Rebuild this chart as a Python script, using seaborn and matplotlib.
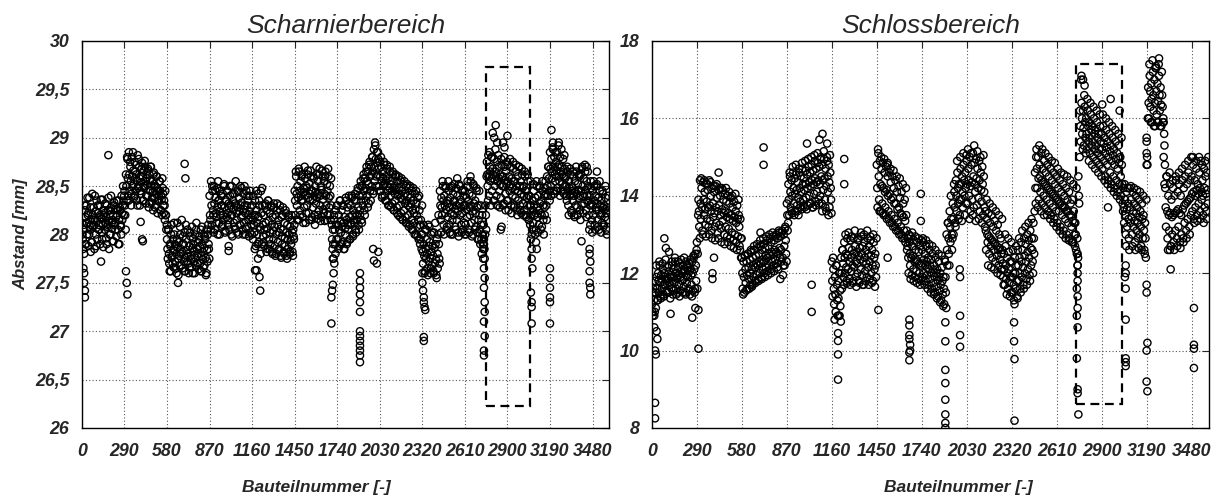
"""
Abstandsmessung Scharnier- und Schlossbereich ueber Bauteilnummer
"""

import numpy as np
import pandas as pd
import matplotlib
matplotlib.use("Agg")
import matplotlib.pyplot as plt
import matplotlib.patches as patches
import seaborn as sns

# ─────────────────────────────────────────
# DATEN (aus dem Bild geschaetzt, Schritt 10 Bauteile, vier Messpunkte je Schritt)
# ─────────────────────────────────────────
bauteil_a = np.arange(0, 3590, 10)
bauteil_b = np.arange(5, 3595, 10)
bauteil_c = np.arange(3, 3593, 10)
bauteil_d = np.arange(8, 3598, 10)

scharnier_a = [
    28.12, 28.05, 28.25, 28.30, 28.20, 28.38, 28.10, 28.42, 28.28, 28.15, 28.35, 28.22, 28.30, 28.18, 28.36, 28.25, 28.12, 28.30, 28.38, 28.20, 28.28, 28.15, 28.33, 28.26, 28.20, 28.35, 28.25, 28.40, 28.50,
    28.45, 28.62, 28.78, 28.85, 28.70, 28.80, 28.66, 28.75, 28.62, 28.82, 28.70, 28.60, 28.74, 28.66, 28.70, 28.58, 28.68, 28.62, 28.70, 28.55, 28.64, 28.50, 28.60, 28.45, 28.55, 28.40, 28.48, 28.35, 28.20,
    27.95, 28.05, 27.90, 28.10, 27.95, 28.00, 27.88, 28.12, 27.92, 28.00, 28.15, 27.90, 28.02, 27.95, 28.05, 27.88, 27.98, 28.08, 27.90, 28.00, 28.12, 27.92, 27.98, 28.05, 27.90, 28.00, 27.95, 28.05, 28.10,
    28.40, 28.55, 28.45, 28.50, 28.38, 28.48, 28.35, 28.45, 28.30, 28.42, 28.50, 28.36, 28.45, 28.32, 28.40, 28.50, 28.35, 28.42, 28.30, 28.45, 28.38, 28.50, 28.33, 28.42, 28.30, 28.45, 28.35, 28.40, 28.28,
    28.30, 28.20, 28.35, 28.25, 28.42, 28.30, 28.45, 28.30, 28.20, 28.32, 28.25, 28.35, 28.22, 28.30, 28.18, 28.28, 28.20, 28.32, 28.15, 28.25, 28.18, 28.28, 28.12, 28.22, 28.10, 28.20, 28.08, 28.15, 28.05,
    28.45, 28.60, 28.50, 28.65, 28.55, 28.62, 28.48, 28.58, 28.50, 28.66, 28.52, 28.60, 28.45, 28.58, 28.50, 28.62, 28.55, 28.68, 28.50, 28.60, 28.55, 28.65, 28.52, 28.60, 28.50, 28.30, 28.05, 28.15, 28.25,
    28.30, 28.20, 28.35, 28.25, 28.30, 28.18, 28.35, 28.28, 28.40, 28.30, 28.38, 28.25, 28.42, 28.35, 28.48, 28.40, 28.55, 28.50, 28.62, 28.58, 28.70, 28.65, 28.75, 28.70, 28.80, 28.88, 28.92, 28.85, 28.78,
    28.75, 28.70, 28.65, 28.72, 28.60, 28.68, 28.58, 28.65, 28.55, 28.62, 28.50, 28.60, 28.55, 28.48, 28.56, 28.45, 28.52, 28.42, 28.50, 28.40, 28.48, 28.38, 28.45, 28.35, 28.42, 28.32, 28.38, 28.25, 28.15,
    28.00, 27.90, 28.05, 27.95, 28.10, 27.92, 28.00, 27.88, 28.02, 27.90, 27.95, 28.20, 28.45, 28.38, 28.50, 28.40, 28.48, 28.35, 28.45, 28.38, 28.50, 28.42, 28.35, 28.48, 28.40, 28.52, 28.36, 28.45, 28.40,
    28.45, 28.38, 28.50, 28.42, 28.55, 28.40, 28.50, 28.35, 28.45, 28.30, 28.20, 28.10, 28.00, 27.90, 28.30, 28.75, 28.82, 28.70, 28.80, 28.68, 28.78, 28.65, 28.75, 28.70, 28.62, 28.72, 28.60, 28.70, 28.65,
    28.72, 28.60, 28.70, 28.58, 28.68, 28.55, 28.65, 28.60, 28.70, 28.55, 28.62, 28.50, 28.60, 28.45, 28.55, 28.40, 28.30, 28.35, 28.45, 28.38, 28.50, 28.40, 28.48, 28.35, 28.45, 28.40, 28.55, 28.60, 28.70,
    28.85, 28.78, 28.88, 28.80, 28.75, 28.85, 28.72, 28.80, 28.70, 28.78, 28.68, 28.60, 28.65, 28.55, 28.62, 28.50, 28.60, 28.55, 28.65, 28.52, 28.60, 28.62, 28.70, 28.58, 28.65, 28.55, 28.50, 28.40, 28.48,
    28.45, 28.50, 28.40, 28.52, 28.38, 28.45, 28.35, 28.42, 28.30, 28.38, 28.28,
]
scharnier_b = [
    27.95, 27.80, 27.90, 28.00, 27.88, 28.05, 27.92, 28.08, 27.85, 28.00, 27.95, 28.10, 27.90, 28.02, 27.87, 28.05, 27.96, 28.10, 27.85, 28.00, 28.06, 27.93, 28.12, 27.98, 28.05, 27.90, 28.08, 28.15, 28.20,
    28.20, 28.35, 28.40, 28.45, 28.30, 28.50, 28.38, 28.45, 28.35, 28.48, 28.30, 28.42, 28.35, 28.50, 28.32, 28.40, 28.28, 28.45, 28.33, 28.25, 28.38, 28.30, 28.22, 28.35, 28.25, 28.20, 28.30, 28.15, 28.05,
    27.75, 27.70, 27.62, 27.78, 27.66, 27.72, 27.60, 27.75, 27.68, 27.80, 27.65, 27.72, 27.62, 27.78, 27.70, 27.66, 27.75, 27.60, 27.72, 27.68, 27.78, 27.64, 27.70, 27.62, 27.74, 27.68, 27.58, 27.72, 27.85,
    28.15, 28.10, 28.20, 28.05, 28.18, 28.00, 28.12, 28.20, 28.08, 28.15, 28.02, 28.18, 28.10, 28.05, 28.20, 27.98, 28.12, 28.06, 28.15, 28.00, 28.10, 28.18, 28.05, 28.12, 28.00, 28.08, 28.15, 28.02, 28.10,
    27.95, 28.02, 27.88, 28.00, 27.92, 28.05, 27.90, 27.98, 27.88, 28.00, 27.85, 27.95, 27.90, 27.82, 27.95, 27.88, 27.80, 27.92, 27.85, 27.78, 27.90, 27.82, 27.88, 27.78, 27.85, 27.80, 27.90, 27.82, 27.95,
    28.20, 28.30, 28.15, 28.25, 28.35, 28.18, 28.28, 28.12, 28.30, 28.22, 28.35, 28.15, 28.28, 28.20, 28.32, 28.16, 28.25, 28.30, 28.18, 28.26, 28.14, 28.30, 28.20, 28.28, 28.15, 27.95, 27.75, 27.90, 27.95,
    27.95, 27.88, 28.02, 27.92, 27.85, 28.00, 27.90, 28.05, 27.95, 28.10, 28.00, 28.12, 28.05, 28.15, 28.10, 28.20, 28.15, 28.30, 28.25, 28.35, 28.40, 28.32, 28.45, 28.50, 28.42, 28.55, 28.60, 28.62, 28.50,
    28.45, 28.38, 28.50, 28.40, 28.35, 28.45, 28.30, 28.40, 28.32, 28.25, 28.35, 28.28, 28.20, 28.30, 28.22, 28.15, 28.25, 28.18, 28.12, 28.20, 28.10, 28.15, 28.05, 28.12, 28.00, 28.08, 27.95, 27.90, 27.85,
    27.70, 27.60, 27.75, 27.65, 27.72, 27.60, 27.68, 27.62, 27.70, 27.58, 27.65, 27.75, 28.15, 28.20, 28.10, 28.22, 28.05, 28.18, 28.10, 28.00, 28.15, 28.20, 28.08, 28.15, 28.02, 28.20, 28.10, 28.05, 28.12,
    28.10, 28.18, 28.05, 28.20, 28.12, 28.00, 28.15, 28.08, 28.02, 27.95, 27.90, 27.80, 27.85, 27.75, 28.05, 28.50, 28.40, 28.55, 28.45, 28.35, 28.50, 28.40, 28.30, 28.45, 28.38, 28.50, 28.32, 28.42, 28.35,
    28.35, 28.45, 28.30, 28.40, 28.28, 28.38, 28.25, 28.35, 28.30, 28.22, 28.32, 28.25, 28.20, 28.30, 28.15, 28.10, 28.00, 28.12, 28.20, 28.05, 28.18, 28.10, 28.22, 28.08, 28.15, 28.20, 28.30, 28.40, 28.45,
    28.50, 28.58, 28.45, 28.55, 28.60, 28.48, 28.55, 28.45, 28.52, 28.42, 28.50, 28.35, 28.30, 28.40, 28.25, 28.35, 28.20, 28.30, 28.28, 28.38, 28.25, 28.30, 28.40, 28.32, 28.25, 28.35, 28.20, 28.10, 28.15,
    28.20, 28.10, 28.25, 28.15, 28.05, 28.20, 28.12, 28.08, 28.18, 28.05, 28.15,
]
scharnier_c = [
    28.00, 28.10, 28.18, 28.12, 28.22, 28.08, 28.16, 28.20, 28.10, 28.24, 28.14, 28.05, 28.20, 28.16, 28.10, 28.22, 28.18, 28.08, 28.14, 28.25, 28.12, 28.20, 28.10, 28.18, 28.26, 28.15, 28.10, 28.22, 28.35,
    28.30, 28.50, 28.58, 28.62, 28.55, 28.60, 28.52, 28.65, 28.56, 28.50, 28.58, 28.54, 28.60, 28.48, 28.55, 28.52, 28.46, 28.56, 28.50, 28.44, 28.52, 28.42, 28.48, 28.40, 28.45, 28.36, 28.42, 28.30, 28.20,
    27.85, 27.80, 27.88, 27.76, 27.84, 27.90, 27.80, 27.86, 27.78, 27.85, 27.82, 27.90, 27.76, 27.84, 27.80, 27.88, 27.78, 27.86, 27.82, 27.76, 27.85, 27.80, 27.88, 27.78, 27.82, 27.86, 27.76, 27.84, 27.90,
    28.20, 28.30, 28.25, 28.32, 28.22, 28.28, 28.35, 28.24, 28.30, 28.20, 28.28, 28.34, 28.22, 28.27, 28.30, 28.20, 28.26, 28.32, 28.22, 28.28, 28.24, 28.30, 28.20, 28.26, 28.22, 28.30, 28.20, 28.24, 28.18,
    28.15, 28.10, 28.20, 28.12, 28.18, 28.08, 28.22, 28.10, 28.05, 28.12, 28.06, 28.14, 28.02, 28.10, 28.04, 28.08, 28.00, 28.10, 28.02, 28.06, 27.98, 28.05, 27.96, 28.02, 27.95, 28.00, 27.94, 28.02, 27.98,
    28.35, 28.42, 28.38, 28.45, 28.40, 28.36, 28.44, 28.40, 28.48, 28.38, 28.42, 28.46, 28.36, 28.40, 28.44, 28.38, 28.42, 28.40, 28.46, 28.36, 28.42, 28.40, 28.45, 28.38, 28.40, 28.10, 27.90, 28.05, 28.10,
    28.10, 28.05, 28.14, 28.08, 28.12, 28.06, 28.15, 28.10, 28.18, 28.12, 28.20, 28.15, 28.22, 28.20, 28.28, 28.25, 28.35, 28.40, 28.45, 28.48, 28.55, 28.52, 28.60, 28.62, 28.65, 28.70, 28.78, 28.74, 28.68,
    28.60, 28.55, 28.58, 28.52, 28.56, 28.50, 28.48, 28.52, 28.45, 28.48, 28.42, 28.46, 28.40, 28.42, 28.38, 28.36, 28.40, 28.32, 28.35, 28.30, 28.28, 28.32, 28.25, 28.22, 28.26, 28.20, 28.15, 28.10, 28.00,
    27.82, 27.78, 27.85, 27.80, 27.88, 27.76, 27.82, 27.78, 27.86, 27.74, 27.80, 27.90, 28.30, 28.28, 28.35, 28.30, 28.26, 28.32, 28.28, 28.22, 28.30, 28.34, 28.26, 28.30, 28.24, 28.32, 28.28, 28.22, 28.30,
    28.30, 28.26, 28.34, 28.28, 28.30, 28.24, 28.32, 28.22, 28.28, 28.15, 28.05, 27.95, 27.90, 27.85, 28.20, 28.62, 28.60, 28.65, 28.58, 28.62, 28.56, 28.60, 28.55, 28.58, 28.52, 28.60, 28.50, 28.56, 28.52,
    28.55, 28.50, 28.52, 28.48, 28.55, 28.46, 28.50, 28.45, 28.50, 28.42, 28.48, 28.40, 28.45, 28.38, 28.40, 28.30, 28.20, 28.25, 28.30, 28.22, 28.28, 28.25, 28.32, 28.20, 28.30, 28.28, 28.42, 28.50, 28.58,
    28.68, 28.65, 28.70, 28.62, 28.66, 28.70, 28.60, 28.65, 28.62, 28.60, 28.58, 28.50, 28.45, 28.48, 28.42, 28.45, 28.40, 28.44, 28.42, 28.46, 28.40, 28.45, 28.50, 28.42, 28.46, 28.40, 28.35, 28.30, 28.32,
    28.30, 28.35, 28.28, 28.32, 28.25, 28.30, 28.22, 28.28, 28.26, 28.22, 28.25,
]
scharnier_d = [
    27.85, 28.30, 27.90, 28.38, 28.00, 28.28, 27.92, 28.15, 28.40, 27.88, 28.30, 28.05, 28.36, 27.95, 28.20, 28.32, 27.90, 28.25, 28.00, 28.40, 27.93, 28.30, 28.05, 28.35, 27.90, 28.28, 28.00, 28.30, 28.40,
    28.05, 28.80, 28.35, 28.75, 28.42, 28.85, 28.40, 28.72, 28.30, 28.78, 28.45, 28.68, 28.35, 28.76, 28.40, 28.66, 28.32, 28.70, 28.38, 28.62, 28.28, 28.60, 28.35, 28.55, 28.25, 28.58, 28.22, 28.45, 28.10,
    28.05, 27.62, 28.00, 27.70, 28.12, 27.65, 27.95, 27.58, 28.08, 27.68, 27.98, 27.62, 28.10, 27.72, 27.60, 28.02, 27.66, 27.96, 27.60, 28.05, 27.70, 27.94, 27.62, 28.08, 27.66, 27.98, 27.60, 28.00, 27.75,
    28.05, 28.50, 28.02, 28.46, 28.12, 28.55, 28.00, 28.40, 28.10, 28.52, 28.04, 28.45, 28.15, 28.50, 28.00, 28.42, 28.08, 28.55, 28.02, 28.44, 28.10, 28.48, 28.00, 28.50, 28.06, 28.40, 27.98, 28.45, 28.00,
    28.40, 27.85, 28.45, 27.90, 28.35, 27.80, 28.48, 27.92, 28.30, 27.82, 28.35, 27.85, 28.28, 27.80, 28.32, 27.78, 28.25, 27.84, 28.30, 27.76, 28.20, 27.80, 28.25, 27.75, 28.18, 27.82, 28.20, 27.78, 28.10,
    28.65, 28.15, 28.68, 28.20, 28.60, 28.12, 28.70, 28.22, 28.62, 28.15, 28.66, 28.18, 28.60, 28.10, 28.70, 28.20, 28.62, 28.14, 28.66, 28.22, 28.60, 28.15, 28.68, 28.20, 28.58, 27.85, 28.20, 27.80, 28.30,
    27.85, 28.35, 27.90, 28.30, 27.85, 28.38, 27.92, 28.32, 27.95, 28.40, 27.98, 28.36, 28.02, 28.45, 28.05, 28.50, 28.12, 28.58, 28.20, 28.65, 28.28, 28.72, 28.35, 28.80, 28.45, 28.95, 28.50, 28.85, 28.45,
    28.80, 28.40, 28.75, 28.35, 28.72, 28.30, 28.70, 28.28, 28.65, 28.25, 28.62, 28.22, 28.60, 28.18, 28.58, 28.15, 28.55, 28.12, 28.52, 28.08, 28.50, 28.05, 28.48, 28.00, 28.45, 27.98, 28.40, 27.95, 28.30,
    28.10, 27.62, 28.05, 27.58, 28.08, 27.65, 28.02, 27.60, 28.12, 27.55, 28.00, 27.70, 28.02, 28.55, 28.00, 28.50, 28.08, 28.55, 28.02, 28.48, 28.00, 28.52, 28.05, 28.58, 27.98, 28.50, 28.02, 28.46, 28.00,
    28.00, 28.55, 28.02, 28.60, 27.98, 28.52, 28.05, 28.48, 27.95, 28.45, 28.30, 28.20, 28.10, 28.00, 28.60, 28.35, 28.85, 28.30, 28.80, 28.35, 28.88, 28.30, 28.82, 28.28, 28.78, 28.30, 28.80, 28.25, 28.75,
    28.25, 28.78, 28.22, 28.75, 28.30, 28.72, 28.20, 28.70, 28.25, 28.68, 28.20, 28.65, 28.18, 28.62, 28.15, 28.55, 28.05, 28.52, 28.00, 28.55, 28.02, 28.50, 28.05, 28.55, 28.00, 28.48, 28.15, 28.70, 28.35,
    28.40, 28.90, 28.42, 28.85, 28.45, 28.92, 28.40, 28.88, 28.45, 28.82, 28.40, 28.70, 28.20, 28.68, 28.22, 28.65, 28.18, 28.70, 28.20, 28.62, 28.15, 28.68, 28.22, 28.72, 28.18, 28.65, 28.05, 28.55, 28.02,
    28.55, 28.05, 28.50, 28.08, 28.55, 28.02, 28.45, 28.10, 28.50, 28.00, 28.40,
]
# Ausreisser Scharnierbereich (Bauteilnummer, Abstand)
scharnier_aus_x = [
    10, 15, 15, 20, 20, 180, 130, 60, 300, 305, 310, 410, 415, 400,
    700, 705, 655, 1000, 1000, 1180, 1190, 1210, 1215, 1200,
    1720, 1715, 1710, 1705, 1700, 1700, 1710,
    1895, 1895, 1895, 1895, 1895, 1895, 1895, 1895, 1895, 1895, 1895, 1895, 1895,
    1990, 2010, 2020, 1985,
    2320, 2320, 2325, 2330, 2330, 2335, 2340, 2330, 2330,
    2740, 2740, 2735, 2740, 2745, 2740, 2745, 2745, 2740, 2745, 2740, 2740,
    2860, 2855, 2820, 2810, 2800, 2830, 2870, 2900, 2880,
    3060, 3065, 3065, 3070, 3060, 3065, 3065, 3065, 3095, 3100,
    3190, 3190, 3190, 3190, 3190, 3190, 3200, 3210, 3250, 3405,
    3460, 3460, 3465, 3460, 3460, 3465, 3465, 3440, 3510,
]
scharnier_aus_y = [
    27.65, 27.60, 27.50, 27.42, 27.35, 28.82, 27.72, 27.82, 27.62, 27.50, 27.38, 27.95, 27.93, 28.13,
    28.73, 28.58, 27.50, 27.88, 27.83, 27.63, 27.63, 27.56, 27.42, 27.75,
    27.70, 27.60, 27.48, 27.42, 27.35, 27.08, 27.75,
    27.60, 27.52, 27.45, 27.38, 27.30, 27.20, 27.00, 26.95, 26.90, 26.85, 26.80, 26.75, 26.68,
    27.73, 27.70, 27.82, 27.85,
    27.60, 27.50, 27.42, 27.35, 27.30, 27.25, 27.22, 26.94, 26.90,
    27.95, 27.85, 27.75, 27.65, 27.55, 27.45, 27.30, 27.20, 27.10, 26.95, 26.80, 26.75,
    28.08, 28.05, 29.13, 29.00, 29.05, 28.95, 28.95, 29.02, 28.90,
    27.95, 27.85, 27.75, 27.65, 27.40, 27.30, 27.25, 27.08, 27.92, 27.85,
    27.65, 27.55, 27.45, 27.35, 27.30, 27.08, 29.08, 28.95, 28.95, 27.93,
    27.85, 27.80, 27.72, 27.62, 27.50, 27.45, 27.38, 28.70, 28.65,
]

schloss_a = [
    11.2, 11.5, 11.8, 11.9, 12.0, 12.2, 11.95, 12.1, 12.0, 11.85, 12.15, 12.05, 11.9, 12.2, 12.1, 12.3, 12.0, 12.15, 12.25, 12.05, 12.2, 12.1, 12.3, 12.15, 12.25, 12.1, 12.3, 12.4, 12.5,
    12.8, 13.9, 14.4, 14.2, 14.35, 14.1, 14.3, 14.15, 14.4, 14.0, 14.2, 14.1, 14.25, 13.95, 14.15, 14.0, 14.2, 13.9, 14.05, 13.85, 14.0, 13.8, 13.95, 13.7, 13.85, 13.6, 13.75, 13.5, 13.4,
    12.4, 12.3, 12.45, 12.3, 12.5, 12.35, 12.55, 12.4, 12.6, 12.45, 12.65, 12.5, 12.7, 12.6, 12.75, 12.65, 12.85, 12.7, 12.9, 12.8, 12.95, 12.85, 13.0, 12.9, 13.05, 12.95, 13.1, 13.0, 13.2,
    13.8, 14.3, 14.5, 14.4, 14.6, 14.45, 14.55, 14.35, 14.6, 14.5, 14.7, 14.45, 14.65, 14.55, 14.75, 14.6, 14.8, 14.65, 14.9, 14.7, 14.85, 14.75, 15.0, 14.8, 14.95, 14.7, 14.9, 14.8, 14.6,
    12.3, 12.1, 11.9, 12.2, 11.8, 12.0, 12.4, 12.6, 12.8, 12.5, 12.9, 12.65, 12.85, 12.6, 12.9, 12.7, 12.55, 12.85, 12.65, 12.95, 12.7, 12.8, 12.6, 12.9, 12.7, 12.85, 12.6, 12.8, 12.5,
    14.8, 15.1, 14.9, 14.7, 14.85, 14.6, 14.75, 14.5, 14.6, 14.35, 14.5, 14.2, 14.4, 14.1, 14.25, 13.95, 14.1, 13.8, 13.9, 13.5, 12.9, 12.8, 12.95, 12.7, 12.85, 12.6, 12.8, 12.55, 12.7,
    12.6, 12.8, 12.5, 12.7, 12.4, 12.6, 12.35, 12.5, 12.2, 12.4, 12.1, 12.3, 12.0, 12.15, 11.9, 12.3, 13.0, 13.3, 13.6, 13.4, 13.8, 14.1, 14.4, 14.6, 14.3, 14.7, 14.5, 14.8, 14.6,
    14.9, 14.7, 15.0, 14.8, 15.1, 14.85, 14.95, 14.7, 14.9, 14.6, 14.75, 14.5, 13.6, 13.4, 13.55, 13.3, 13.5, 13.2, 13.35, 13.1, 13.25, 13.0, 12.9, 12.6, 12.5, 12.7, 12.4, 12.55, 12.3,
    12.3, 12.0, 12.4, 12.2, 12.6, 12.4, 12.8, 12.6, 12.9, 12.75, 13.0, 12.85, 13.1, 12.9, 13.3, 14.6, 15.2, 15.0, 14.8, 15.1, 14.7, 14.9, 14.6, 14.8, 14.5, 14.7, 14.4, 14.6, 14.3,
    14.5, 14.2, 14.4, 14.1, 14.3, 14.0, 14.2, 13.9, 14.1, 13.8, 13.9, 13.6, 13.3, 12.5, 14.5, 16.2, 16.4, 16.2, 16.3, 16.0, 16.2, 15.9, 16.1, 15.8, 16.0, 15.7, 15.9, 15.6, 15.8,
    15.6, 15.8, 15.5, 15.7, 15.4, 15.6, 15.3, 15.5, 15.2, 15.4, 15.1, 15.3, 15.0, 14.8, 14.2, 13.9, 14.1, 13.8, 14.2, 13.9, 14.1, 13.8, 14.0, 13.7, 13.9, 13.6, 13.8, 13.5, 13.3,
    15.5, 16.8, 17.1, 16.9, 17.2, 17.0, 17.3, 16.9, 17.1, 16.8, 16.6, 15.9, 14.2, 14.5, 14.0, 14.3, 13.9, 14.2, 14.0, 14.4, 14.1, 14.3, 14.0, 14.4, 14.2, 14.5, 14.3, 14.6, 14.4,
    14.5, 14.8, 14.4, 14.7, 14.3, 14.6, 14.9, 14.4, 14.7, 14.5, 14.6,
]
schloss_b = [
    10.9, 10.6, 11.1, 11.3, 11.5, 11.4, 11.6, 11.45, 11.7, 11.55, 11.5, 11.7, 11.6, 11.45, 11.75, 11.6, 11.5, 11.7, 11.55, 11.8, 11.65, 11.5, 11.75, 11.6, 11.45, 11.7, 11.55, 11.5, 11.8,
    12.5, 13.2, 13.4, 13.1, 13.5, 13.25, 13.4, 13.2, 13.35, 13.1, 13.45, 13.2, 13.3, 13.05, 13.25, 13.15, 13.35, 13.0, 13.2, 12.95, 13.15, 12.9, 13.05, 12.85, 13.0, 12.8, 12.95, 12.7, 12.4,
    11.6, 11.5, 11.75, 11.6, 11.85, 11.7, 11.65, 11.9, 11.8, 11.95, 11.85, 12.0, 11.9, 12.1, 12.0, 12.15, 12.05, 12.2, 12.1, 12.3, 12.2, 12.35, 12.25, 12.1, 12.4, 12.3, 11.95, 12.2, 12.5,
    13.1, 13.5, 13.7, 13.55, 13.8, 13.6, 13.75, 13.5, 13.85, 13.65, 13.9, 13.7, 13.95, 13.75, 14.0, 13.8, 13.7, 14.05, 13.85, 14.1, 13.9, 14.0, 13.8, 14.15, 13.9, 13.6, 14.1, 13.7, 13.9,
    11.4, 11.2, 11.0, 11.3, 10.9, 11.15, 11.6, 11.9, 12.0, 11.8, 12.1, 11.85, 12.05, 11.75, 12.15, 11.9, 12.0, 11.8, 12.1, 11.95, 11.7, 12.05, 11.9, 12.15, 11.85, 12.0, 11.8, 12.1, 11.9,
    13.7, 13.9, 13.6, 13.8, 13.5, 13.7, 13.4, 13.6, 13.3, 13.5, 13.2, 13.4, 13.1, 13.3, 13.0, 13.2, 12.9, 13.1, 12.8, 12.6, 12.0, 12.2, 11.95, 12.1, 11.9, 12.05, 11.85, 12.0, 11.8,
    11.9, 12.0, 11.8, 11.95, 11.7, 11.85, 11.6, 11.75, 11.5, 11.65, 11.4, 11.55, 11.3, 11.45, 11.2, 11.5, 12.2, 12.5, 12.8, 12.6, 13.0, 13.3, 13.6, 13.8, 13.5, 13.9, 13.7, 14.0, 13.8,
    13.8, 14.0, 13.6, 13.9, 13.7, 14.1, 13.75, 13.95, 13.6, 13.85, 13.5, 13.7, 12.6, 12.8, 12.5, 12.7, 12.4, 12.6, 12.3, 12.45, 12.2, 12.35, 12.1, 11.9, 11.7, 11.85, 11.6, 11.75, 11.5,
    11.5, 11.3, 11.6, 11.4, 11.8, 11.6, 11.9, 11.7, 12.0, 11.85, 12.1, 11.95, 12.2, 12.3, 12.5, 13.8, 14.2, 13.9, 14.1, 13.8, 14.0, 13.7, 13.9, 13.6, 13.8, 13.5, 13.7, 13.4, 13.6,
    13.3, 13.6, 13.2, 13.5, 13.1, 13.4, 13.0, 13.3, 12.9, 13.2, 12.8, 13.0, 12.6, 12.2, 13.8, 15.4, 15.6, 15.3, 15.5, 15.2, 15.4, 15.1, 15.3, 15.0, 15.2, 14.9, 15.1, 14.8, 15.0,
    14.7, 14.9, 14.5, 14.8, 14.4, 14.6, 14.3, 14.5, 14.2, 14.4, 14.1, 14.3, 14.0, 13.8, 13.3, 13.0, 13.2, 12.9, 13.3, 13.0, 13.2, 12.8, 13.1, 12.9, 13.0, 12.7, 12.9, 12.6, 12.4,
    14.8, 16.0, 16.3, 15.9, 16.2, 15.8, 16.1, 15.9, 16.2, 15.8, 15.9, 15.3, 13.2, 12.9, 13.1, 12.7, 13.0, 12.8, 13.1, 12.9, 13.2, 12.8, 13.0, 12.9, 13.3, 13.1, 13.4, 13.2, 13.5,
    13.6, 13.4, 13.7, 13.5, 13.8, 13.6, 13.9, 13.5, 13.7, 13.6, 13.8,
]
schloss_c = [
    11.0, 11.3, 11.5, 11.6, 11.8, 11.75, 11.85, 11.7, 11.9, 11.8, 11.85, 11.75, 11.95, 11.8, 11.9, 12.0, 11.85, 11.95, 11.9, 12.0, 11.85, 12.05, 11.95, 11.9, 12.05, 11.95, 12.0, 12.1, 12.2,
    11.6, 13.6, 13.8, 13.7, 13.9, 13.65, 13.85, 13.7, 13.75, 13.6, 13.8, 13.55, 13.7, 13.6, 13.75, 13.5, 13.65, 13.55, 13.6, 13.45, 13.55, 13.4, 13.5, 13.35, 13.45, 13.3, 13.4, 13.2, 12.9,
    12.0, 11.9, 12.1, 11.95, 12.15, 12.0, 12.1, 12.2, 12.15, 12.25, 12.2, 12.3, 12.25, 12.35, 12.3, 12.45, 12.4, 12.5, 12.45, 12.55, 12.5, 12.6, 12.55, 12.5, 12.65, 12.6, 12.4, 12.7, 12.85,
    13.5, 13.9, 14.1, 14.0, 14.2, 14.05, 14.15, 13.95, 14.2, 14.1, 14.3, 14.15, 14.3, 14.2, 14.35, 14.25, 14.4, 14.3, 14.45, 14.35, 14.4, 14.3, 14.5, 14.4, 14.45, 14.25, 14.5, 14.35, 14.2,
    11.8, 11.6, 11.45, 11.7, 11.35, 11.55, 12.0, 12.25, 12.4, 12.15, 12.45, 12.3, 12.4, 12.2, 12.5, 12.3, 12.25, 12.45, 12.35, 12.5, 12.3, 12.4, 12.25, 12.5, 12.3, 12.45, 12.2, 12.4, 12.2,
    14.2, 14.5, 14.3, 14.25, 14.2, 14.1, 14.15, 14.0, 14.05, 13.9, 13.95, 13.8, 13.8, 13.65, 13.7, 13.55, 13.5, 13.45, 13.35, 13.1, 12.4, 12.5, 12.4, 12.45, 12.3, 12.35, 12.3, 12.25, 12.2,
    12.25, 12.35, 12.2, 12.3, 12.1, 12.2, 12.0, 12.1, 11.9, 12.0, 11.8, 11.9, 11.7, 11.8, 11.6, 11.9, 12.6, 12.9, 13.2, 13.0, 13.4, 13.7, 14.0, 14.2, 13.9, 14.3, 14.1, 14.4, 14.2,
    14.3, 14.4, 14.25, 14.35, 14.5, 14.3, 14.45, 14.2, 14.4, 14.15, 14.3, 14.1, 13.1, 13.0, 12.95, 12.9, 12.85, 12.8, 12.75, 12.7, 12.6, 12.65, 12.5, 12.25, 12.1, 12.2, 12.0, 12.1, 11.9,
    11.9, 11.7, 12.0, 11.8, 12.2, 12.0, 12.3, 12.15, 12.45, 12.3, 12.55, 12.4, 12.65, 12.6, 12.9, 14.2, 14.7, 14.45, 14.5, 14.4, 14.35, 14.3, 14.25, 14.2, 14.15, 14.1, 14.05, 14.0, 13.95,
    13.9, 13.85, 13.8, 13.75, 13.7, 13.7, 13.6, 13.6, 13.5, 13.5, 13.35, 13.3, 13.0, 12.9, 14.0, 15.8, 16.0, 15.75, 15.9, 15.6, 15.8, 15.5, 15.7, 15.4, 15.6, 15.3, 15.5, 15.2, 15.4,
    15.2, 15.35, 15.1, 15.25, 15.0, 15.15, 14.9, 15.05, 14.8, 14.95, 14.7, 14.85, 14.5, 14.3, 13.7, 13.5, 13.65, 13.4, 13.7, 13.45, 13.6, 13.35, 13.55, 13.3, 13.45, 13.2, 13.4, 13.1, 12.9,
    15.0, 16.4, 16.7, 16.5, 16.6, 16.4, 16.7, 16.45, 16.6, 16.35, 16.3, 15.6, 13.7, 13.6, 13.5, 13.55, 13.45, 13.5, 13.55, 13.6, 13.65, 13.55, 13.5, 13.65, 13.75, 13.8, 13.85, 13.9, 13.95,
    14.05, 14.1, 14.0, 14.15, 14.05, 14.2, 14.1, 14.0, 14.2, 14.05, 14.15,
]
schloss_d = [
    11.6, 11.0, 12.2, 11.3, 12.3, 11.35, 12.25, 11.4, 12.35, 11.5, 12.2, 11.35, 12.3, 11.55, 12.4, 11.45, 12.3, 11.4, 12.35, 11.5, 12.4, 11.45, 12.2, 11.55, 12.35, 11.4, 12.45, 11.6, 12.6,
    13.5, 12.9, 14.45, 13.0, 14.4, 12.95, 14.3, 13.0, 14.35, 12.9, 14.25, 12.85, 14.3, 12.9, 14.2, 12.8, 14.15, 12.75, 14.2, 12.8, 14.1, 12.7, 14.0, 12.65, 14.05, 12.6, 13.9, 12.6, 12.9,
    11.45, 12.45, 11.55, 12.5, 11.6, 12.6, 11.7, 12.7, 11.75, 12.75, 11.8, 12.85, 11.85, 12.9, 11.9, 12.95, 11.95, 13.0, 12.0, 13.05, 12.05, 12.95, 12.15, 13.1, 11.85, 13.05, 12.2, 13.15, 12.3,
    13.3, 14.6, 13.6, 14.75, 13.5, 14.8, 13.6, 14.7, 13.7, 14.85, 13.75, 14.9, 13.65, 14.95, 13.8, 15.0, 13.7, 15.05, 13.75, 15.1, 13.8, 14.95, 13.6, 15.15, 13.7, 15.0, 13.5, 15.05, 13.55,
    12.4, 10.8, 12.2, 10.9, 12.0, 10.75, 12.6, 11.7, 13.0, 11.75, 13.05, 11.7, 12.95, 11.8, 13.1, 11.65, 12.9, 11.75, 13.05, 11.7, 13.0, 11.8, 13.1, 11.7, 12.95, 11.75, 13.0, 11.65, 12.9,
    15.2, 13.6, 15.0, 13.55, 14.95, 13.5, 14.8, 13.4, 14.7, 13.3, 14.65, 13.2, 14.5, 13.1, 14.45, 13.0, 14.3, 12.9, 14.2, 12.7, 13.0, 11.85, 13.05, 11.8, 12.95, 11.75, 12.9, 11.7, 12.85,
    12.9, 11.7, 12.85, 11.6, 12.75, 11.5, 12.7, 11.45, 12.6, 11.35, 12.5, 11.25, 12.45, 11.15, 12.35, 11.1, 13.3, 12.2, 14.0, 12.9, 14.3, 13.2, 14.9, 13.4, 15.0, 13.35, 15.1, 13.5, 15.05,
    15.2, 13.4, 15.1, 13.5, 15.3, 13.35, 15.15, 13.4, 15.0, 13.3, 15.05, 13.2, 13.9, 12.2, 13.8, 12.15, 13.7, 12.1, 13.6, 12.0, 13.5, 11.95, 13.4, 11.7, 13.0, 11.45, 12.9, 11.4, 12.8,
    12.6, 11.2, 12.7, 11.35, 12.9, 11.5, 13.1, 11.6, 13.2, 11.7, 13.3, 11.8, 13.4, 12.0, 13.6, 15.0, 13.7, 15.3, 13.6, 15.2, 13.5, 15.1, 13.5, 15.0, 13.4, 14.9, 13.3, 14.85, 13.2,
    14.7, 13.1, 14.6, 13.0, 14.55, 12.9, 14.5, 12.85, 14.4, 12.8, 14.3, 12.7, 14.2, 12.4, 15.0, 17.0, 15.2, 16.6, 15.1, 16.5, 14.9, 16.4, 14.8, 16.3, 14.7, 16.2, 14.6, 16.1, 14.5,
    16.1, 14.4, 16.0, 14.3, 15.9, 14.2, 15.8, 14.1, 15.7, 14.0, 15.6, 13.9, 15.5, 13.6, 14.3, 12.7, 14.2, 12.6, 14.25, 12.7, 14.2, 12.6, 14.15, 12.65, 14.1, 12.6, 14.0, 12.5, 13.9,
    16.0, 17.4, 15.9, 17.5, 15.8, 17.3, 15.9, 17.4, 15.8, 17.2, 16.0, 14.8, 14.5, 12.6, 14.6, 12.7, 14.4, 12.6, 14.5, 12.7, 14.6, 12.65, 14.7, 12.8, 14.8, 12.9, 14.9, 13.0, 15.0,
    15.0, 13.3, 14.9, 13.35, 15.0, 13.4, 14.8, 13.3, 14.9, 13.4, 15.0,
]
# Ausreisser Schlossbereich (Bauteilnummer, Abstand)
schloss_aus_x = [
    20, 25, 20, 20, 30, 35, 15, 80, 90, 110, 120, 260, 280, 300, 300,
    390, 390, 400, 430, 700, 720, 720,
    1000, 1030, 1030, 1080, 1100, 1130,
    1200, 1200, 1200, 1200, 1210, 1240, 1240, 1460, 1520, 1520, 1734, 1734,
    1660, 1660, 1660, 1660, 1665, 1665, 1660, 1660,
    1892, 1892, 1892, 1892, 1892, 1892, 1892, 1892,
    1987, 1987, 1987, 1985, 1987,
    2335, 2335, 2338, 2338,
    2745, 2745, 2745, 2745, 2740, 2745, 2745, 2740, 2745, 2740, 2745, 2745, 2750,
    3055, 3055, 3055, 3055, 3055, 3055, 3055, 3050,
    3190, 3190, 3190, 3190, 3190, 3195, 3190, 3190, 3195,
    3300, 3305, 3345, 3340,
    3495, 3495, 3495, 3495,
    2941, 2904, 2958, 3016, 2770, 2780, 2790, 3270, 3250,
]
schloss_aus_y = [
    10.0, 9.9, 8.65, 8.25, 10.5, 10.3, 10.9, 12.9, 12.65, 12.55, 10.95, 10.85, 11.1, 10.05, 11.05,
    12.0, 11.85, 12.4, 14.6, 13.05, 15.25, 14.8,
    15.35, 11.7, 11.0, 15.45, 15.6, 15.35,
    10.45, 10.25, 9.9, 9.25, 10.9, 14.95, 14.3, 11.05, 14.85, 12.4, 14.05, 13.35,
    10.8, 10.65, 10.4, 10.3, 10.15, 10.0, 9.95, 9.75,
    10.73, 10.24, 9.5, 9.16, 8.73, 8.35, 8.13, 8.0,
    10.9, 10.4, 10.1, 12.1, 11.9,
    10.73, 10.24, 9.78, 8.19,
    12.5, 12.2, 12.0, 11.8, 11.6, 11.4, 11.1, 10.9, 10.6, 9.8, 9.0, 8.9, 8.35,
    12.2, 12.0, 11.6, 10.8, 9.8, 9.7, 9.6, 11.9,
    15.4, 15.1, 14.8, 11.7, 11.5, 10.2, 10.0, 9.2, 8.95,
    15.0, 14.3, 12.1, 12.6,
    11.1, 10.15, 10.05, 9.55,
    13.7, 16.36, 16.5, 16.2, 17.1, 17.0, 16.85, 17.55, 17.35,
]

titel = ["Scharnierbereich", "Schlossbereich"]
x_ticks = [0, 290, 580, 870, 1160, 1450, 1740, 2030, 2320, 2610, 2900, 3190, 3480]
y_ticks_links = [26, 26.5, 27, 27.5, 28, 28.5, 29, 29.5, 30]
y_labels_links = ["26", "26,5", "27", "27,5", "28", "28,5", "29", "29,5", "30"]
y_ticks_rechts = [8, 10, 12, 14, 16, 18]
y_labels_rechts = ["8", "10", "12", "14", "16", "18"]

# markierter Bereich (gestrichelte Box): x0, x1, y0, y1
box_links = (2754, 3054, 26.23, 29.73)
box_rechts = (2735, 3034, 8.61, 17.40)

# ─────────────────────────────────────────
# PLOT
# ─────────────────────────────────────────
sns.set_style("white")
plt.rcParams["font.family"] = ["Liberation Sans", "DejaVu Sans"]

df_links = pd.DataFrame({
    "nr": np.concatenate([bauteil_a, bauteil_b, bauteil_c, bauteil_d, scharnier_aus_x]),
    "abstand": np.concatenate([scharnier_a, scharnier_b, scharnier_c, scharnier_d, scharnier_aus_y]),
})
df_rechts = pd.DataFrame({
    "nr": np.concatenate([bauteil_a, bauteil_b, bauteil_c, bauteil_d, schloss_aus_x]),
    "abstand": np.concatenate([schloss_a, schloss_b, schloss_c, schloss_d, schloss_aus_y]),
})

fig = plt.figure(figsize=(12.25, 4.99), dpi=100)
ax1 = fig.add_axes([0.0669, 0.1423, 0.4302, 0.7756])
ax2 = fig.add_axes([0.5322, 0.1423, 0.4547, 0.7756])

panels = [
    (ax1, df_links, y_ticks_links, y_labels_links, box_links, 0.444),
    (ax2, df_rechts, y_ticks_rechts, y_labels_rechts, box_rechts, 0.55),
]

for i, (ax, df, yt, yl, box, xlab_pos) in enumerate(panels):
    sns.scatterplot(data=df, x="nr", y="abstand", ax=ax, marker="o",
                    s=27, facecolor="none", edgecolor="black", linewidth=1.0,
                    legend=False, zorder=3)
    ax.set_xlim(0, 3592)
    ax.set_ylim(yt[0], yt[-1])
    ax.set_xticks(x_ticks)
    ax.set_xticklabels([str(t) for t in x_ticks])
    ax.set_yticks(yt)
    ax.set_yticklabels(yl)
    ax.grid(True, linestyle=(0, (1, 2)), color="#555555", linewidth=0.8)
    ax.tick_params(direction="in", length=5, width=0.8, top=True, right=True,
                   labelsize=12.8)
    ax.tick_params(axis="x", pad=11)
    ax.tick_params(axis="y", pad=9)
    for lab in ax.get_xticklabels() + ax.get_yticklabels():
        lab.set_fontweight("bold")
        lab.set_fontstyle("italic")
    for sp in ax.spines.values():
        sp.set_color("black")
        sp.set_linewidth(1.0)

    x0, x1, y0, y1 = box
    rect = patches.Rectangle((x0, y0), x1 - x0, y1 - y0, fill=False,
                             edgecolor="black", linewidth=1.6,
                             linestyle=(0, (4, 2.5)), zorder=4)
    ax.add_patch(rect)

    ax.set_title(titel[i], fontsize=19, fontstyle="italic", pad=6)
    ax.set_xlabel("Bauteilnummer [-]", fontsize=12.5, fontweight="bold",
                  fontstyle="italic")
    ax.xaxis.set_label_coords(xlab_pos, -0.135)
    if i == 0:
        ax.set_ylabel("Abstand [mm]", fontsize=12, fontweight="bold",
                      fontstyle="italic", labelpad=5)
    else:
        ax.set_ylabel("")

fig.savefig("out.png", dpi=100)
